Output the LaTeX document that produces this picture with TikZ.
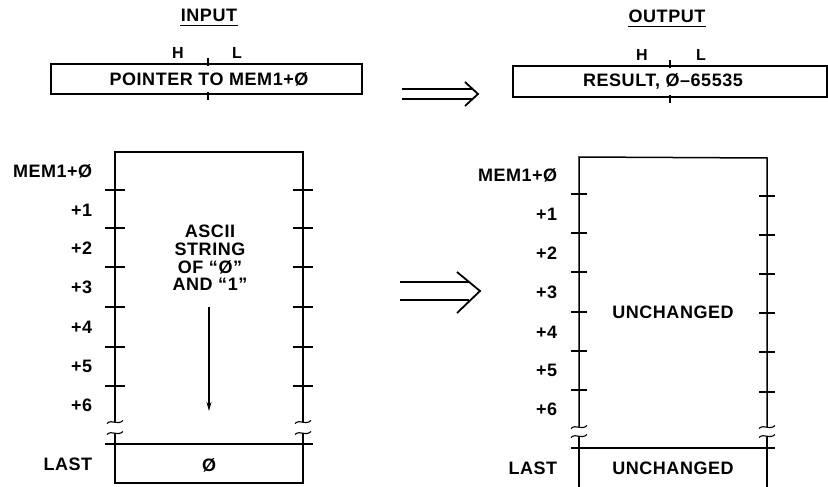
\documentclass[tikz,border=0pt]{standalone}
\usepackage{fontspec}
\usetikzlibrary{arrows.meta}
\newfontfamily\hv[LetterSpace=3]{Liberation Sans}
\newcommand\brkmark[2]{\draw[brk,shift={(#1,#2)}] (-8,1.5) .. controls (-3,-3.5) and (2,4) .. (8,-1.5);}
\begin{document}
\begin{tikzpicture}[x=1pt,y=-1pt,line width=1.5pt,
  txt/.style={font=\hv\bfseries\fontsize{18}{17.8}\selectfont,inner sep=0pt},
  small/.style={font=\hv\bfseries\fontsize{16}{18}\selectfont,inner sep=0pt},
  lab/.style={txt,anchor=east},
  regbox/.style={draw,inner sep=0pt,line width=1.5pt},
  brk/.style={line width=1.1pt},
  dbl/.style={line width=1.6pt},
  chev/.style={line width=1.8pt,line join=miter}]
\useasboundingbox (0,0) rectangle (828,487);

% ---------- titles ----------
\node[txt] (in) at (209,15) {INPUT};
\draw[line width=1pt] ([yshift=-3pt]in.south west) -- ([yshift=-3pt]in.south east);
\node[txt] (out) at (667,16) {OUTPUT};
\draw[line width=1pt] ([yshift=-3pt]out.south west) -- ([yshift=-3pt]out.south east);

% ---------- registers ----------
\node[small] (h1) at (178,53) {H};
\node[small] (l1) at (237,53) {L};
\node[regbox,minimum width=311pt,minimum height=30pt] (ptr) at (206.5,79) {};
\node[txt] (ptrt) at (209,79) {POINTER TO MEM1+Ø};
\draw (208,58) -- (208,66);
\draw (208,92) -- (208,100);

\node[small] (h2) at (642,55) {H};
\node[small] (l2) at (701,55) {L};
\node[regbox,minimum width=314pt,minimum height=31pt] (res) at (670,81.5) {};
\node[txt] (rest) at (663,81) {RESULT, Ø–65535};
\draw (670,60) -- (670,68);
\draw (670,95) -- (670,103);

% ---------- double arrows ----------
\coordinate (a1a) at (402,89); \coordinate (a1b) at (473,89);
\coordinate (a1c) at (402,99); \coordinate (a1d) at (473,99);
\draw[dbl] (a1a) -- (a1b);
\draw[dbl] (a1c) -- (a1d);
\draw[chev] (465,82) -- (478,94) -- (465,106);

\coordinate (a2a) at (400,282); \coordinate (a2b) at (469,282);
\coordinate (a2c) at (400,300); \coordinate (a2d) at (469,300);
\draw[dbl] (a2a) -- (a2b);
\draw[dbl] (a2c) -- (a2d);
\draw[chev] (457,272) -- (480,291) -- (457,313);

% ---------- input memory ----------
\draw (115,422) -- (115,152) -- (303,152) -- (303,422);
\draw (115,433) -- (115,483) -- (303,483) -- (303,433);
\draw (105,444) -- (313,444);
\foreach \y in {190,228,267,307,347,386} {
  \draw (105,\y) -- (125,\y);
  \draw (293,\y) -- (313,\y);
}
\brkmark{115}{422}\brkmark{115}{433}\brkmark{303}{422}\brkmark{303}{433}
\foreach \t/\y in {MEM1+Ø/171,+1/210,+2/248,+3/287,+4/327,+5/366,+6/405,LAST/464}
  \node[lab] at (93,\y) {\t};
\node[txt,align=center] (asc) at (210,258) {ASCII\\STRING\\OF “Ø”\\AND “1”};
\coordinate (ds) at (209,307);
\coordinate (de) at (209,411);
\draw[line width=1.3pt,-{Stealth[length=9pt,width=5pt]}] (ds) -- (de);
\node[txt] (zero) at (209,465) {Ø};

% ---------- output memory ----------
\draw (579,427) -- (579,157) -- (767,158) -- (767,427);
\draw (579,436) -- (579,487);
\draw (767,436) -- (767,487);
\draw (571,448) -- (775,448);
\foreach \y in {194,233,272,312,351,390} \draw (571,\y) -- (587,\y);
\foreach \y in {196,235,274,313,352,392} \draw (759,\y) -- (775,\y);
\brkmark{579}{427}\brkmark{579}{436}\brkmark{767}{427}\brkmark{767}{436}
\foreach \t/\y in {MEM1+Ø/175,+1/214,+2/253,+3/292,+4/332,+5/370,+6/409,LAST/468}
  \node[lab] at (558,\y) {\t};
\node[txt] (unc1) at (673,312) {UNCHANGED};
\node[txt] (unc2) at (673,468) {UNCHANGED};
\end{tikzpicture}
\end{document}
